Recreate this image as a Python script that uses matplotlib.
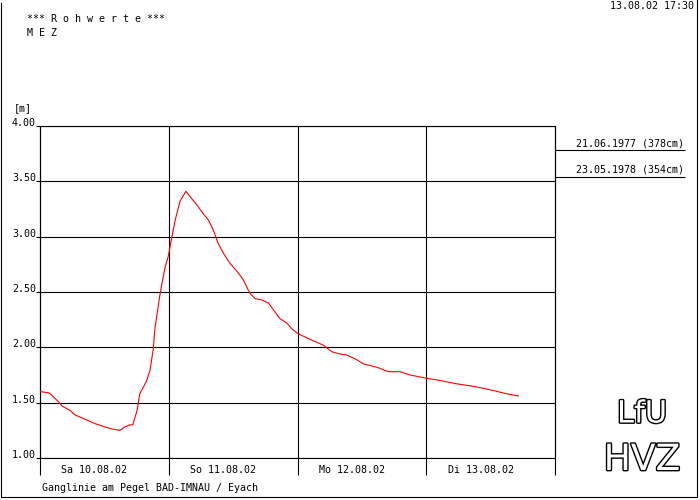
import matplotlib
matplotlib.use("Agg")
import matplotlib.pyplot as plt
import matplotlib.patheffects as pe
from matplotlib.lines import Line2D

# hours since Sa 10.08.02 00:00 and gauge level in m
hours = [0, 1.5, 1.9, 3.4, 4.1, 5.6, 6.5, 8.4, 10.3, 12.1, 13.6, 14.9, 15.8, 16.8, 17.3,
         18.1, 18.6, 19.8, 20.5, 21.1, 21.4, 22.4, 23.3, 23.9, 24.6, 25.2, 26.1, 27.2,
         28.0, 29.2, 30.4, 31.4, 32.3, 33.2, 34.2, 35.4, 37.0, 37.9, 39.1, 40.1, 41.3,
         42.6, 43.8, 44.7, 46.0, 46.9, 47.9, 49.1, 50.9, 52.8, 54.4, 55.9, 57.2, 59.0,
         60.3, 62.8, 64.9, 67.1, 69.0, 72.1, 74.6, 77.7, 80.5, 82.6, 84.5, 87.0, 89.2]
level = [1.60, 1.59, 1.58, 1.51, 1.47, 1.43, 1.39, 1.35, 1.31, 1.28, 1.26, 1.25, 1.28, 1.30, 1.30,
         1.43, 1.58, 1.69, 1.79, 1.98, 2.16, 2.49, 2.72, 2.82, 3.00, 3.15, 3.32, 3.41,
         3.36, 3.29, 3.21, 3.15, 3.06, 2.94, 2.85, 2.76, 2.67, 2.61, 2.49, 2.44, 2.43,
         2.40, 2.32, 2.26, 2.22, 2.17, 2.13, 2.10, 2.06, 2.02, 1.96, 1.94, 1.93, 1.89,
         1.85, 1.82, 1.78, 1.78, 1.75, 1.72, 1.70, 1.67, 1.65, 1.63, 1.61, 1.58, 1.56]

day_labels = ["Sa 10.08.02", "So 11.08.02", "Mo 12.08.02", "Di 13.08.02"]
y_ticks = [1.0, 1.5, 2.0, 2.5, 3.0, 3.5, 4.0]
marks = [3.78, 3.54]
mark_labels = ["21.06.1977 (378cm)", "23.05.1978 (354cm)"]

W, H = 700, 500
mono = "DejaVu Sans Mono"
fs = 7.2
lw = 0.8

fig = plt.figure(figsize=(7, 5), dpi=100)
fig.patch.set_facecolor("white")

def px(x, y):
    return x / W, 1 - y / H

# outer frame (no top line)
for xs, ys in [((1, 1), (3, 497)), ((697, 697), (0, 497)), ((1, 697), (497, 497))]:
    fig.add_artist(Line2D([x / W for x in xs], [1 - y / H for y in ys], color="black", lw=lw))

ax = fig.add_axes([40 / W, 1 - 458 / H, (555 - 40) / W, (458 - 126) / H])
ax.set_xlim(0, 96)
ax.set_ylim(1.0, 4.0)
for s in ax.spines.values():
    s.set_linewidth(lw)
ax.set_xticks([])
ax.set_yticks(y_ticks)
ax.set_yticklabels([])
ax.tick_params(axis="y", length=3, width=lw, direction="out")

for y in y_ticks:
    ax.axhline(y, color="black", lw=lw, zorder=1)
    ax.text(-0.008, y, f"{y:.2f}", transform=ax.get_yaxis_transform(), ha="right",
            va="baseline", fontsize=fs, family=mono)

axh = 458 - 126
for d in range(5):
    ax.vlines(d * 24, -17 / axh, 1, transform=ax.get_xaxis_transform(), color="black",
              lw=lw, clip_on=False, zorder=1)
for d, lab in enumerate(day_labels):
    ax.text(d * 24 + 4, -12 / axh, lab, transform=ax.get_xaxis_transform(), ha="left",
            va="center", fontsize=fs, family=mono)

ax.plot(hours, level, color="red", lw=lw, zorder=3)

# historic flood marks to the right of the plot
xr = (685 - 40) / (555 - 40)
ax.hlines(marks, 1.0, xr, transform=ax.get_yaxis_transform(), color="black", lw=lw, clip_on=False)
for m, lab in zip(marks, mark_labels):
    ax.text(xr - 0.002, m + 0.02, lab, transform=ax.get_yaxis_transform(), ha="right",
            va="bottom", fontsize=fs, family=mono)

fig.text(*px(27, 19), "*** R o h w e r t e ***", ha="left", va="center", fontsize=fs, family=mono)
fig.text(*px(27, 33), "M E Z", ha="left", va="center", fontsize=fs, family=mono)
fig.text(*px(694, 6), "13.08.02 17:30", ha="right", va="center", fontsize=fs, family=mono)
fig.text(*px(14, 108), "[m]", ha="left", va="center", fontsize=fs, family=mono)
fig.text(*px(42, 488), "Ganglinie am Pegel BAD-IMNAU / Eyach", ha="left", va="center",
         fontsize=fs, family=mono)

# logo
outline = [pe.withStroke(linewidth=2.0, foreground="black")]
fig.text(*px(642, 414), "LfU", ha="center", va="center", fontsize=22, color="white",
         family="DejaVu Sans", path_effects=outline)
fig.text(*px(642, 460), "HVZ", ha="center", va="center", fontsize=26, color="white",
         family="DejaVu Sans", path_effects=outline)

fig.savefig("out.png", dpi=100)
